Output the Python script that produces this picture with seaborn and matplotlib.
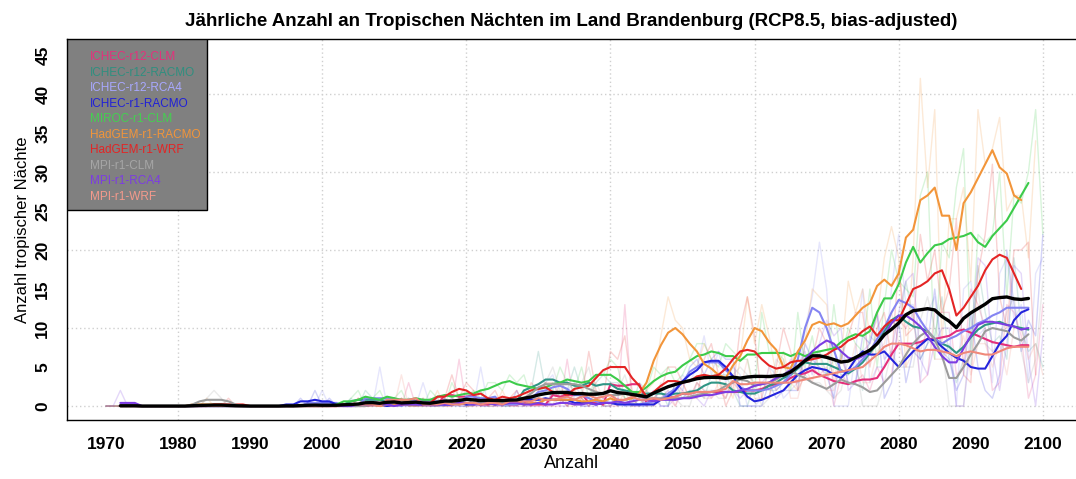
import numpy as np
import pandas as pd
import matplotlib
matplotlib.use("Agg")
import matplotlib.pyplot as plt
from matplotlib.patches import Rectangle
import seaborn as sns

# --- Data: annual number of tropical nights per model run, starting 1970 ---
YEAR_START = 1970

ichec_r12_clm = [
    0, 0, 0, 0, 0, 0, 0, 0, 0, 0,
    0, 0, 0, 0, 0, 0, 0, 0, 0, 0,
    0, 0, 0, 0, 0, 0, 0, 0, 0, 0,
    0, 0, 0, 0, 0, 0, 0, 0, 0, 1,
    0, 0, 3, 0, 0, 0, 1, 0, 0, 6,
    0, 0, 0, 1, 0, 0, 1, 0, 0, 0,
    1, 0, 0, 0, 6, 0, 1, 0, 1, 0,
    0, 0, 13, 0, 0, 1, 0, 1, 2, 0,
    2, 1, 3, 2, 1, 2, 1, 3, 2, 1,
    2, 2, 3, 3, 3, 3, 3, 6, 5, 4,
    5, 0, 4, 3, 3, 4, 2, 5, 3, 4,
    11, 10, 12, 3, 4, 12, 12, 12, 4, 5,
    15, 13, 10, 2, 3, 13, 12, 9, 1, 4,
    13,
]

ichec_r12_racmo = [
    0, 0, 0, 0, 0, 0, 0, 0, 0, 0,
    0, 0, 0, 0, 0, 0, 0, 0, 0, 0,
    0, 0, 0, 0, 0, 0, 0, 0, 0, 0,
    0, 0, 0, 0, 1, 0, 2, 1, 0, 1,
    0, 1, 0, 0, 1, 0, 0, 1, 0, 1,
    0, 1, 2, 0, 1, 0, 0, 1, 0, 2,
    7, 2, 3, 3, 2, 5, 2, 1, 3, 4,
    3, 3, 1, 0, 3, 2, 1, 2, 0, 3,
    1, 2, 2, 1, 4, 4, 4, 2, 0, 0,
    3, 3, 2, 2, 3, 5, 6, 4, 6, 7,
    4, 6, 4, 4, 5, 2, 9, 8, 10, 11,
    10, 16, 11, 6, 8, 9, 14, 6, 3, 6,
    5, 18, 12, 8, 9, 6, 19, 10, 7, 8,
    5,
]

ichec_r12_rca4 = [
    0, 0, 0, 0, 0, 0, 0, 0, 0, 0,
    0, 0, 0, 0, 0, 0, 0, 0, 0, 0,
    0, 0, 0, 0, 0, 0, 0, 0, 0, 0,
    2, 0, 0, 0, 0, 0, 0, 0, 5, 0,
    0, 0, 0, 0, 3, 0, 0, 0, 0, 1,
    0, 0, 5, 0, 0, 0, 1, 0, 0, 0,
    2, 3, 4, 1, 2, 3, 1, 0, 1, 0,
    1, 0, 0, 1, 0, 0, 0, 1, 2, 1,
    4, 3, 5, 9, 4, 7, 3, 5, 4, 0,
    0, 1, 5, 4, 1, 2, 3, 10, 14, 21,
    15, 0, 0, 0, 7, 15, 3, 5, 5, 15,
    22, 13, 13, 3, 12, 14, 6, 8, 0, 15,
    16, 9, 10, 3, 17, 19, 11, 13, 3, 17,
    19,
]

ichec_r1_racmo = [
    0, 0, 0, 0, 0, 0, 0, 0, 0, 0,
    0, 0, 0, 0, 0, 0, 0, 0, 0, 0,
    0, 0, 0, 0, 0, 0, 0, 1, 0, 2,
    0, 1, 0, 0, 0, 0, 1, 0, 0, 0,
    0, 0, 1, 0, 0, 0, 0, 1, 0, 0,
    0, 1, 0, 0, 1, 0, 0, 2, 0, 1,
    1, 0, 2, 1, 0, 1, 0, 0, 1, 0,
    0, 1, 0, 0, 0, 0, 1, 0, 0, 3,
    2, 5, 6, 4, 6, 7, 6, 6, 0, 0,
    0, 0, 3, 1, 2, 2, 2, 8, 6, 5,
    4, 1, 7, 3, 3, 9, 8, 12, 1, 3,
    11, 3, 7, 6, 8, 15, 7, 6, 2, 4,
    12, 5, 2, 1, 4, 20, 13, 7, 11, 9,
    22,
]

miroc_r1_clm = [
    0, 0, 0, 0, 0, 0, 0, 0, 0, 0,
    0, 0, 0, 0, 0, 0, 0, 0, 0, 0,
    0, 0, 0, 0, 0, 0, 0, 0, 0, 0,
    0, 0, 0, 0, 1, 2, 0, 1, 2, 0,
    1, 2, 0, 1, 0, 2, 1, 0, 3, 1,
    1, 2, 1, 3, 3, 2, 4, 3, 4, 1,
    1, 3, 2, 5, 3, 2, 5, 1, 4, 4,
    6, 5, 1, 1, 0, 2, 5, 4, 5, 3,
    4, 6, 8, 8, 6, 5, 8, 7, 6, 6,
    2, 12, 7, 7, 6, 2, 12, 5, 9, 4,
    4, 13, 6, 10, 8, 7, 15, 5, 13, 20,
    16, 15, 14, 27, 30, 6, 21, 19, 28, 33,
    7, 22, 21, 22, 30, 14, 27, 26, 30, 38,
    22,
]

# HadGEM runs end in 2099
hadgem_r1_racmo = [
    0, 0, 0, 0, 0, 0, 0, 0, 0, 0,
    0, 0, 0, 0, 1, 0, 0, 0, 0, 0,
    0, 0, 0, 0, 0, 0, 0, 0, 0, 0,
    0, 0, 0, 0, 0, 1, 0, 0, 0, 0,
    0, 1, 0, 0, 0, 0, 2, 0, 0, 1,
    0, 0, 1, 0, 0, 2, 0, 0, 1, 0,
    0, 1, 0, 3, 0, 0, 1, 0, 2, 0,
    1, 0, 2, 0, 1, 2, 3, 9, 14, 11,
    10, 6, 5, 8, 6, 2, 3, 1, 6, 14,
    8, 13, 9, 4, 7, 3, 2, 8, 15, 14,
    13, 4, 6, 16, 12, 15, 9, 11, 19, 23,
    19, 5, 19, 42, 28, 38, 8, 24, 24, 28,
    16, 38, 31, 33, 37, 25, 27, 27, 19, 34,
]

hadgem_r1_wrf = [
    0, 0, 0, 0, 0, 0, 0, 0, 0, 0,
    0, 0, 0, 0, 0, 0, 0, 1, 0, 0,
    0, 0, 0, 0, 0, 0, 0, 0, 0, 0,
    0, 0, 0, 0, 0, 1, 0, 0, 1, 0,
    0, 1, 0, 0, 1, 0, 0, 1, 4, 1,
    3, 2, 0, 1, 2, 0, 1, 2, 0, 3,
    2, 3, 3, 1, 0, 2, 1, 7, 2, 1,
    7, 6, 9, 2, 1, 0, 1, 2, 5, 5,
    3, 1, 1, 6, 8, 4, 0, 2, 10, 14,
    9, 1, 1, 5, 10, 7, 2, 4, 6, 10,
    8, 3, 6, 9, 12, 12, 5, 10, 12, 6,
    18, 9, 10, 22, 16, 20, 12, 15, 24, 4,
    3, 17, 22, 31, 14, 10, 20, 20, 21, 4,
]

mpi_r1_clm = [
    0, 0, 0, 0, 0, 0, 0, 0, 0, 0,
    0, 0, 0, 0, 1, 2, 1, 0, 0, 0,
    0, 0, 0, 0, 0, 0, 0, 0, 0, 0,
    0, 0, 0, 0, 0, 0, 0, 0, 0, 1,
    0, 0, 1, 0, 0, 1, 0, 0, 1, 0,
    0, 1, 0, 0, 1, 0, 0, 1, 0, 2,
    2, 3, 5, 2, 2, 2, 3, 5, 1, 0,
    0, 2, 4, 1, 1, 0, 0, 3, 1, 1,
    0, 0, 3, 2, 2, 1, 1, 4, 5, 4,
    3, 0, 1, 6, 5, 5, 3, 4, 3, 3,
    2, 1, 2, 6, 6, 0, 0, 0, 3, 7,
    5, 5, 5, 11, 14, 10, 8, 0, 0, 0,
    10, 15, 8, 7, 8, 12, 14, 7, 3, 6,
    16,
]

mpi_r1_rca4 = [
    0, 0, 2, 0, 0, 0, 0, 0, 0, 0,
    0, 0, 0, 0, 0, 0, 0, 0, 0, 0,
    0, 0, 0, 0, 0, 0, 0, 0, 0, 0,
    0, 0, 0, 0, 0, 0, 0, 1, 0, 0,
    0, 0, 0, 1, 0, 0, 0, 0, 1, 0,
    0, 1, 0, 0, 0, 1, 0, 0, 1, 0,
    0, 0, 1, 0, 0, 1, 0, 0, 0, 1,
    0, 1, 0, 1, 0, 1, 2, 0, 0, 1,
    1, 2, 1, 0, 2, 2, 2, 2, 1, 2,
    3, 3, 4, 2, 3, 6, 5, 7, 4, 8,
    11, 9, 10, 2, 3, 7, 8, 12, 6, 7,
    12, 16, 17, 6, 4, 8, 10, 10, 0, 0,
    8, 19, 18, 7, 2, 8, 18, 17, 6, 0,
    9,
]

mpi_r1_wrf = [
    0, 0, 0, 0, 0, 0, 0, 0, 0, 0,
    0, 0, 0, 0, 0, 0, 0, 0, 0, 0,
    0, 0, 0, 0, 0, 0, 0, 0, 0, 0,
    0, 0, 0, 0, 0, 1, 0, 0, 0, 0,
    0, 4, 0, 0, 0, 1, 0, 0, 0, 1,
    0, 0, 1, 0, 0, 1, 0, 0, 2, 0,
    1, 0, 2, 1, 0, 2, 1, 0, 3, 1,
    0, 2, 1, 0, 1, 2, 0, 1, 1, 0,
    3, 1, 3, 1, 1, 3, 1, 4, 2, 6,
    1, 1, 5, 2, 6, 1, 1, 5, 3, 7,
    2, 2, 6, 4, 8, 3, 3, 7, 8, 12,
    8, 5, 7, 7, 10, 6, 6, 7, 6, 9,
    4, 8, 8, 5, 8, 4, 10, 10, 6, 8,
    4,
]

model_names = [
    "ICHEC-r12-CLM", "ICHEC-r12-RACMO", "ICHEC-r12-RCA4", "ICHEC-r1-RACMO",
    "MIROC-r1-CLM", "HadGEM-r1-RACMO", "HadGEM-r1-WRF", "MPI-r1-CLM",
    "MPI-r1-RCA4", "MPI-r1-WRF",
]
model_values = [
    ichec_r12_clm, ichec_r12_racmo, ichec_r12_rca4, ichec_r1_racmo,
    miroc_r1_clm, hadgem_r1_racmo, hadgem_r1_wrf, mpi_r1_clm,
    mpi_r1_rca4, mpi_r1_wrf,
]
line_colors = [
    "#E4307C", "#2F9585", "#8484F2", "#2424DC", "#3CCB4A",
    "#F2953A", "#E42424", "#9C9C9C", "#7C3CE2", "#F0887A",
]
text_colors = [
    "#E4307C", "#2F8F7F", "#A8A8FF", "#2020D8", "#44D050",
    "#F2953A", "#E42424", "#A6A6A6", "#7C3CE2", "#F59A8C",
]

# --- Build tables ---
years = np.arange(YEAR_START, 2101)
wide = pd.DataFrame(index=years)
for name, vals in zip(model_names, model_values):
    wide[name] = pd.Series(vals, index=years[:len(vals)], dtype=float)

smooth = wide.rolling(5, center=True).mean()
ensemble = wide.mean(axis=1).rolling(5, center=True).mean()

annual_long = wide.reset_index(names="Jahr").melt(id_vars="Jahr", var_name="Modell", value_name="Wert").dropna()
smooth_long = smooth.reset_index(names="Jahr").melt(id_vars="Jahr", var_name="Modell", value_name="Wert").dropna()
palette = dict(zip(model_names, line_colors))

# --- Style ---
sns.set_style("white")
plt.rcParams["font.family"] = ["Liberation Sans", "DejaVu Sans"]
plt.rcParams["text.color"] = "black"
plt.rcParams["axes.labelcolor"] = "black"
plt.rcParams["xtick.color"] = "black"
plt.rcParams["ytick.color"] = "black"

fig, ax = plt.subplots(figsize=(10.76, 4.79), dpi=100)
plt.subplots_adjust(left=0.0623, right=1.0, bottom=0.123, top=0.9186)

# grid (dotted)
for gx in range(1980, 2101, 20):
    ax.axvline(gx, color="#CFCFCF", linestyle=(0, (1, 2)), linewidth=1.0, zorder=0)
for gy in range(0, 41, 10):
    ax.axhline(gy, color="#CFCFCF", linestyle=(0, (1, 2)), linewidth=1.0, zorder=0)

# annual values (faint)
sns.lineplot(data=annual_long, x="Jahr", y="Wert", hue="Modell", hue_order=model_names,
             palette=palette, alpha=0.2, linewidth=1.0, estimator=None, legend=False, ax=ax)
# 5-year running mean per model
sns.lineplot(data=smooth_long, x="Jahr", y="Wert", hue="Modell", hue_order=model_names,
             palette=palette, linewidth=1.5, estimator=None, legend=False, ax=ax)
# ensemble mean
sns.lineplot(x=ensemble.index, y=ensemble.values, color="black", linewidth=2.4, ax=ax)

ax.set_xlim(1964.6, 2104.6)
ax.set_ylim(-1.8, 47.05)
ax.set_xticks(range(1970, 2101, 10))
ax.set_yticks(range(0, 46, 5))
ax.tick_params(axis="both", direction="out", length=7, width=1, color="black",
               labelcolor="black", labelsize=12.5, pad=5)
for lab in ax.get_xticklabels():
    lab.set_fontweight("bold")
for lab in ax.get_yticklabels():
    lab.set_fontweight("bold")
    lab.set_rotation(90)
    lab.set_va("center")

for side in ["left", "bottom", "top"]:
    ax.spines[side].set_color("black")
    ax.spines[side].set_linewidth(1.0)
ax.spines["right"].set_visible(False)

ax.set_title("Jährliche Anzahl an Tropischen Nächten im Land Brandenburg (RCP8.5, bias-adjusted)",
             fontsize=13.5, fontweight="bold", pad=9, color="black")
ax.set_xlabel("Anzahl", fontsize=13, labelpad=2)
ax.set_ylabel("Anzahl tropischer Nächte", fontsize=12, labelpad=4)

# legend box (grey, text only)
box_w, box_h = 0.1388, 0.449
ax.add_patch(Rectangle((0, 1 - box_h), box_w, box_h, transform=ax.transAxes,
                       facecolor="#808080", edgecolor="black", linewidth=1.0, zorder=5))
for i, (name, col) in enumerate(zip(model_names, text_colors)):
    ax.text(0.0228, 0.9528 - i * 0.0408, name, transform=ax.transAxes, color=col,
            fontsize=8.5, va="center", ha="left", zorder=6)

plt.savefig("out.png", dpi=100)
plt.close()
